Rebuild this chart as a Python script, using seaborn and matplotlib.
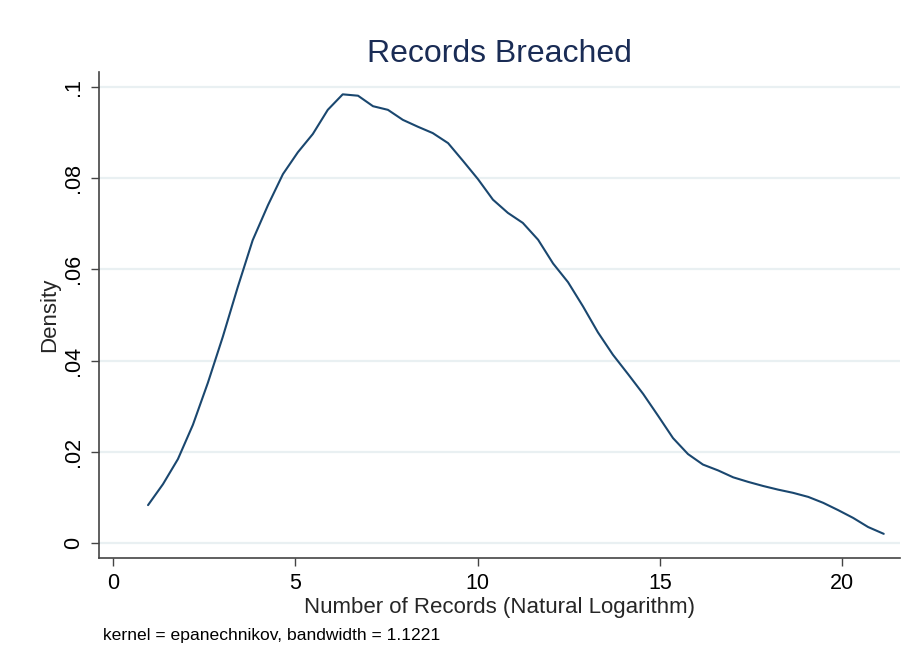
import matplotlib
matplotlib.use("Agg")
import matplotlib.pyplot as plt
import seaborn as sns
import pandas as pd

# Kernel density estimate of log record counts (evaluation points and density)
log_records = [0.96, 1.37, 1.78, 2.19, 2.60, 3.01, 3.42, 3.83, 4.25, 4.66,
               5.07, 5.48, 5.89, 6.30, 6.72, 7.13, 7.54, 7.95, 8.36, 8.77,
               9.19, 9.60, 10.01, 10.42, 10.83, 11.24, 11.66, 12.07, 12.48, 12.89,
               13.30, 13.71, 14.13, 14.54, 14.95, 15.36, 15.77, 16.18, 16.60, 17.01,
               17.42, 17.83, 18.24, 18.65, 19.07, 19.48, 19.89, 20.30, 20.71, 21.14]
density = [0.0083, 0.0129, 0.0184, 0.0259, 0.0351, 0.0452, 0.0561, 0.0664, 0.0741, 0.0809,
           0.0857, 0.0897, 0.0950, 0.0984, 0.0981, 0.0958, 0.0950, 0.0928, 0.0913, 0.0899,
           0.0877, 0.0838, 0.0798, 0.0753, 0.0724, 0.0702, 0.0665, 0.0613, 0.0572, 0.0519,
           0.0462, 0.0413, 0.0370, 0.0327, 0.0279, 0.0230, 0.0195, 0.0172, 0.0159, 0.0144,
           0.0134, 0.0125, 0.0117, 0.0110, 0.0101, 0.0088, 0.0072, 0.0055, 0.0035, 0.0020]

x_ticks = [0, 5, 10, 15, 20]
y_ticks = [0, 0.02, 0.04, 0.06, 0.08, 0.1]
y_tick_labels = ["0", ".02", ".04", ".06", ".08", ".1"]

title = "Records Breached"
x_label = "Number of Records (Natural Logarithm)"
y_label = "Density"
note = "kernel = epanechnikov, bandwidth = 1.1221"

df = pd.DataFrame({"x": log_records, "density": density})

sns.set_theme(style="white")
plt.rcParams["font.family"] = ["Liberation Sans", "DejaVu Sans"]

fig = plt.figure(figsize=(9.12, 6.71), dpi=100)
ax = fig.add_axes([0.1086, 0.1684, 0.8784, 0.7243])

for yv in y_ticks:
    ax.axhline(yv, color="#e9f0f2", lw=1.6, zorder=0)

sns.lineplot(data=df, x="x", y="density", ax=ax, color="#1a476f", lw=1.5)

ax.set_xlim(-0.384, 21.59)
ax.set_ylim(-0.0033, 0.1033)
ax.set_xticks(x_ticks)
ax.set_xticklabels([str(t) for t in x_ticks], fontsize=15.5)
ax.set_yticks(y_ticks)
ax.set_yticklabels(y_tick_labels, fontsize=15.5, rotation=90, va="center")
ax.tick_params(axis="both", direction="out", length=6, width=1.0, color="#444444",
               labelcolor="black", pad=5, left=True, bottom=True)

for side in ("top", "right"):
    ax.spines[side].set_visible(False)
for side in ("left", "bottom"):
    ax.spines[side].set_color("#444444")
    ax.spines[side].set_linewidth(1.2)

ax.set_xlabel(x_label, fontsize=16, labelpad=2)
ax.set_ylabel(y_label, fontsize=16, labelpad=2)
ax.set_title(title, fontsize=23, color="#1a2c55", pad=7)

fig.text(0.113, 0.053, note, fontsize=12.6, color="black", ha="left", va="center")

fig.savefig("out.png", dpi=100, facecolor="white")
